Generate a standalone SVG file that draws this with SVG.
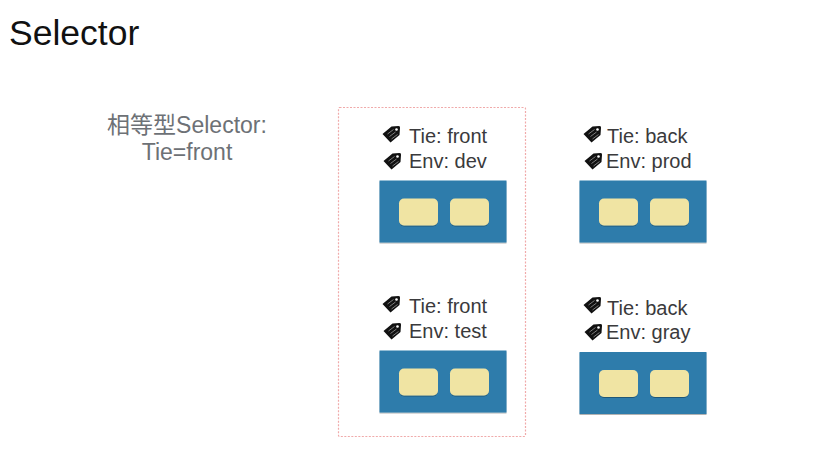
<svg xmlns="http://www.w3.org/2000/svg" width="829" height="461" viewBox="0 0 829 461">
<style>
.t{font-size:35.500px;fill:#111;font-family:"Liberation Sans","Noto Sans CJK SC",sans-serif}
.s{font-size:23px;fill:#6d7176;text-anchor:middle;font-family:"Liberation Sans","Noto Sans CJK SC",sans-serif}
.l{font-size:20px;fill:#3a3a3c;font-family:"Liberation Sans",sans-serif}
.box{fill:#2e7cab;filter:url(#sh)}
.pod{fill:#f0e4a3;filter:url(#sh)}
.tag{fill:#111}
</style>
<defs>
<filter id="sh" x="-10%" y="-10%" width="120%" height="125%"><feDropShadow dx="0" dy="1" stdDeviation="0.7" flood-color="#000" flood-opacity="0.3"/></filter>
<g id="tag"><path class="tag" d="M-9 0 L0 -7.500 L7 -8 Q9 -8 8.500 -6 L8 1 L-1 8.500 Z"/><circle cx="5" cy="-4.500" r="1.300" fill="#fff"/><path d="M-4 0 L2 -4.500 M-2 2.500 L4 -2 M0 5 L6 0.500" stroke="#888" stroke-width="0.900" fill="none"/></g>
<g id="unit"><rect class="box" x="0" y="0" width="127" height="62"/><rect class="pod" x="19.500" y="18" width="39" height="27" rx="5"/><rect class="pod" x="70.500" y="18" width="39" height="27" rx="5"/></g>
</defs>
<text class="t" x="9" y="45">Selector</text>
<text class="s" x="187" y="133">相等型Selector:</text>
<text class="s" x="187" y="160">Tie=front</text>
<g id="selection"><rect x="338.500" y="107.500" width="187" height="329" rx="1" fill="none" stroke="#f0aaaa" stroke-width="1.200" stroke-dasharray="2 1.500"/></g>
<g id="node-front-dev">
<use href="#tag" x="391.500" y="134"/><use href="#tag" x="392.500" y="161"/>
<text class="l" x="409" y="143">Tie: front</text><text class="l" x="409" y="168">Env: dev</text>
<use href="#unit" x="379.500" y="180.500"/></g>
<g id="node-back-prod">
<use href="#tag" x="592.500" y="134"/><use href="#tag" x="593.500" y="161"/>
<text class="l" x="607" y="143">Tie: back</text><text class="l" x="606" y="168">Env: prod</text>
<use href="#unit" x="579.500" y="180.500"/></g>
<g id="node-front-test">
<use href="#tag" x="391.500" y="304"/><use href="#tag" x="392.500" y="331"/>
<text class="l" x="409" y="313">Tie: front</text><text class="l" x="409" y="338">Env: test</text>
<use href="#unit" x="379.500" y="350.500"/></g>
<g id="node-back-gray">
<use href="#tag" x="592.500" y="305"/><use href="#tag" x="593.500" y="332"/>
<text class="l" x="607" y="315">Tie: back</text><text class="l" x="606" y="339">Env: gray</text>
<use href="#unit" x="579.500" y="352"/></g>
<g id="connectors"></g>
</svg>
